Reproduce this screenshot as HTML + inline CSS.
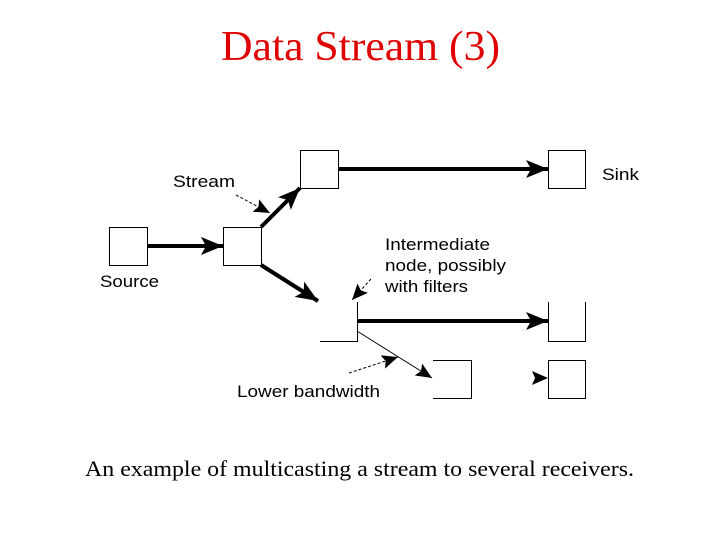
<!DOCTYPE html>
<html><head><style>
body{margin:0;width:720px;height:540px;background:#fff;overflow:hidden}
svg{position:absolute;left:0;top:0}
</style></head><body>
<svg width="720" height="540" viewBox="0 0 720 540">
<defs>
<marker id="b" markerWidth="22" markerHeight="18" refX="22" refY="9" orient="auto" markerUnits="userSpaceOnUse"><path d="M0,0 L22,9 L0,18 L5,9 Z"/></marker>
<marker id="c" markerWidth="16" markerHeight="14" refX="16" refY="7" orient="auto" markerUnits="userSpaceOnUse"><path d="M0,0 L16,7 L0,14 L3,7 Z"/></marker>
</defs>
<text x="221" y="60" textLength="279" lengthAdjust="spacingAndGlyphs" font-family="Liberation Serif" font-size="42" fill="#e00000">Data Stream (3)</text>
<g fill="none" stroke="#000" stroke-width="1">
<rect x="109.5" y="227.5" width="38" height="38"/>
<rect x="223.5" y="227.5" width="38" height="38"/>
<rect x="300.5" y="150.5" width="38" height="38"/>
<rect x="548.5" y="150.5" width="37" height="38"/>
<path d="M320,341.5 H357.5 V302"/>
<path d="M548.5,302 V341.5 H585.5 V302"/>
<path d="M433,360.5 H471.5 V398.5 H433"/>
<rect x="548.5" y="360.5" width="37" height="38"/>
</g>
<g stroke="#000" stroke-width="4" fill="none">
<line x1="147" y1="246" x2="223" y2="246" marker-end="url(#b)"/>
<line x1="261" y1="227" x2="300" y2="188" marker-end="url(#b)"/>
<line x1="261" y1="265" x2="318" y2="301" marker-end="url(#b)"/>
<line x1="338" y1="169" x2="548" y2="169" marker-end="url(#b)"/>
<line x1="357" y1="321" x2="548" y2="321" marker-end="url(#b)"/>
</g>
<g stroke="#000" stroke-width="1" fill="none">
<line x1="357" y1="331" x2="432" y2="378" marker-end="url(#c)"/>
<line x1="531" y1="378" x2="548" y2="378" stroke-width="0" marker-end="url(#c)"/>
<line x1="236" y1="195" x2="270" y2="213" stroke-dasharray="3,2" marker-end="url(#c)"/>
<line x1="371" y1="279" x2="352" y2="300" stroke-dasharray="3,2" marker-end="url(#c)"/>
<line x1="349" y1="373" x2="398" y2="357" stroke-dasharray="3,2" marker-end="url(#c)"/>
</g>
<g font-family="Liberation Sans" font-size="17" fill="#000">
<text x="173" y="187" textLength="62" lengthAdjust="spacingAndGlyphs">Stream</text>
<text x="602" y="180" textLength="37" lengthAdjust="spacingAndGlyphs">Sink</text>
<text x="100" y="287" textLength="59" lengthAdjust="spacingAndGlyphs">Source</text>
<text x="385" y="250" textLength="105" lengthAdjust="spacingAndGlyphs">Intermediate</text>
<text x="385" y="271" textLength="121" lengthAdjust="spacingAndGlyphs">node, possibly</text>
<text x="385" y="292" textLength="83" lengthAdjust="spacingAndGlyphs">with filters</text>
<text x="237" y="397" textLength="143" lengthAdjust="spacingAndGlyphs">Lower bandwidth</text>
</g>
<text x="85" y="476" textLength="549" lengthAdjust="spacingAndGlyphs" font-family="Liberation Serif" font-size="22" fill="#000">An example of multicasting a stream to several receivers.</text>
</svg>
</body></html>
